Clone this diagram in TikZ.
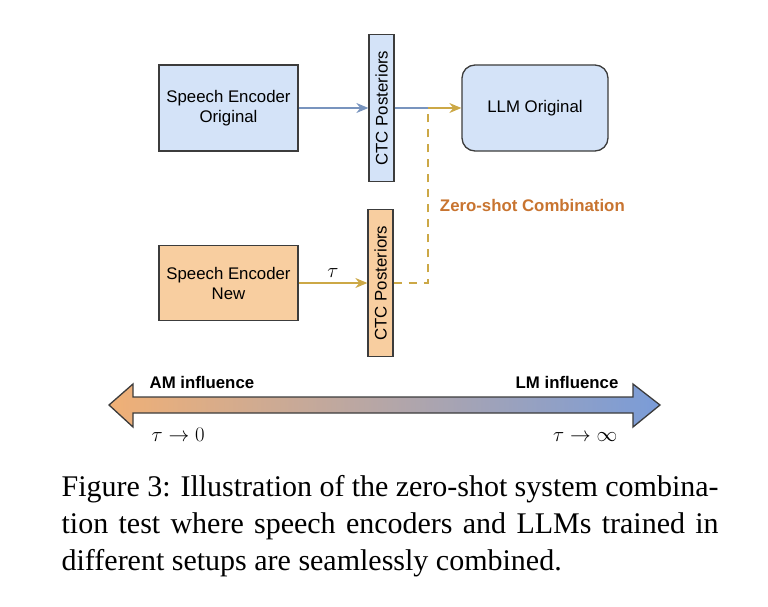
\documentclass[tikz,border=0pt]{standalone}
\usepackage{fontspec}
\setmainfont{Liberation Sans}
\newfontfamily\capfont{Liberation Serif}
\usepackage{xcolor}
\usetikzlibrary{arrows.meta,positioning}

\definecolor{blufill}{RGB}{212,227,248}
\definecolor{orgfill}{RGB}{248,206,160}
\definecolor{edgecol}{RGB}{60,60,60}
\definecolor{bluline}{RGB}{120,148,190}
\definecolor{goldline}{RGB}{204,168,70}
\definecolor{zerocol}{RGB}{200,116,48}
\definecolor{amcol}{RGB}{240,176,118}
\definecolor{lmcol}{RGB}{122,156,216}

\begin{document}
\begin{tikzpicture}[x=1pt, y=-1pt, line width=1.3pt,
	enc/.style={draw=edgecol, minimum width=139pt, align=center,
	font=\fontsize{16.8}{20}\selectfont},
	post/.style={draw=edgecol, rotate=90, minimum width=147pt, minimum height=25pt,
	inner sep=0pt, font=\fontsize{16.8}{20}\selectfont},
	>={Stealth[length=12pt,width=10pt]}]
\useasboundingbox (0,0) rectangle (768,607);

\node[enc, fill=blufill, minimum height=86pt] (seo) at (228.5,108) {Speech Encoder\\Original};
\node[post, fill=blufill] (ctco) at (381.5,108) {CTC Posteriors};
\node[enc, fill=blufill, minimum width=146pt, minimum height=86pt, rounded corners=13pt] (llm) at (535,108) {LLM Original};
\node[enc, fill=orgfill, minimum height=75pt] (sen) at (228.5,283) {Speech Encoder\\New};
\node[post, fill=orgfill] (ctcn) at (380.5,283) {CTC Posteriors};
\coordinate (join) at (428,108);

\draw[bluline,->] (seo) -- (ctco);
\draw[bluline] (ctco) -- (join);
\draw[goldline,->] (join) -- (llm);
\draw[goldline,->] (sen) -- node[above=2pt, text=black, font=\fontsize{20}{20}\selectfont] (tau) {$\tau$} (ctcn);
\draw[goldline, dash pattern=on 8pt off 7pt] (ctcn.south) -| (join);
\node[anchor=west, text=zerocol, font=\fontsize{16.8}{20}\selectfont\bfseries] (zero) at (436,205) {Zero-shot Combination};

% influence scale
\draw[edgecol, left color=amcol, right color=lmcol] (109,405) -- (133,384) -- (133,397) -- (633,397)
	-- (633,384) -- (660,405) -- (633,427) -- (633,413) -- (133,413) -- (133,427) -- cycle;
\node[anchor=west, inner sep=0pt, font=\fontsize{16.8}{20}\selectfont\bfseries] (am) at (149,382) {AM influence};
\node[anchor=east, inner sep=0pt, font=\fontsize{16.8}{20}\selectfont\bfseries] (lm) at (619,382) {LM influence};
\node[anchor=base west, inner sep=0pt, font=\fontsize{20}{20}\selectfont] (tzero) at (151,441) {$\tau\to0$};
\node[anchor=base east, inner sep=0pt, font=\fontsize{20}{20}\selectfont] (tinf) at (618,441) {$\tau\to\infty$};

\node[anchor=north west, inner sep=0pt, text width=657pt, align=justify,
	font=\capfont\fontsize{30}{37}\selectfont] (cap) at (61,474.5)
	{Figure 3: Illustration of the zero-shot system combina-\linebreak tion test where speech encoders and LLMs trained in\linebreak different setups are seamlessly combined.};
\end{tikzpicture}
\end{document}
